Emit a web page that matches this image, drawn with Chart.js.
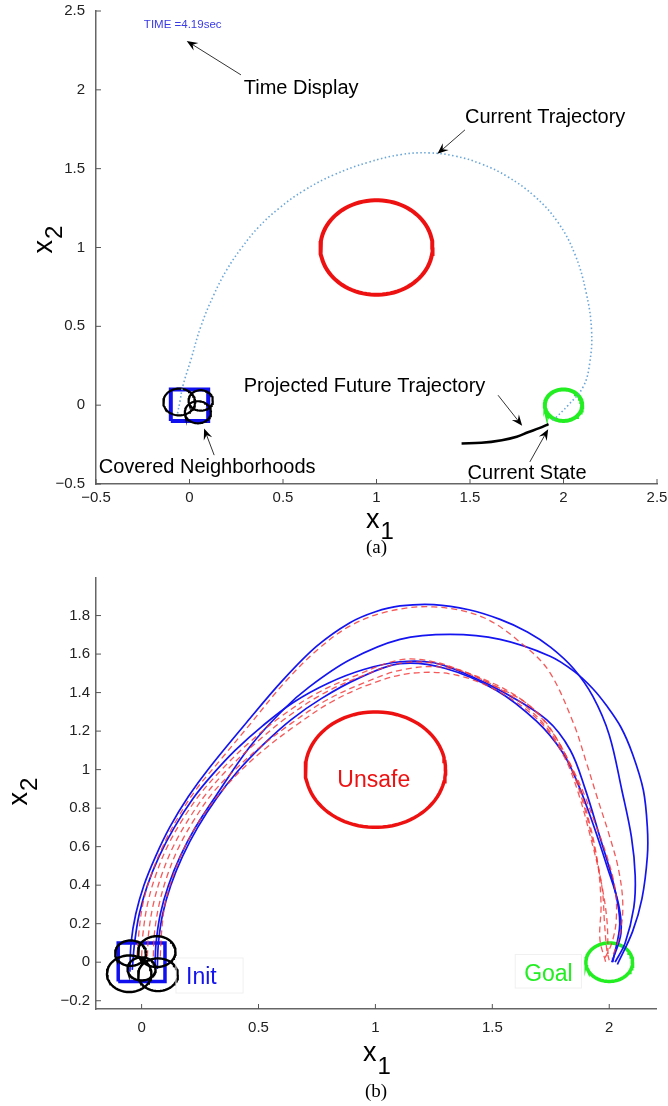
<!DOCTYPE html>
<html>
<head>
<meta charset="utf-8">
<script src="https://cdn.jsdelivr.net/npm/chart.js@4.4.1/dist/chart.umd.min.js"></script>
<style>
  body { margin: 0; background: #fff; }
  canvas { display: block; }
</style>
</head>
<body>
<canvas id="chartA" width="668" height="560"></canvas>
<canvas id="chartB" width="668" height="546"></canvas>
<script>
// ---- (a) données ----
const aTicksX = [-0.5, 0, 0.5, 1, 1.5, 2, 2.5];
const aTicksY = [-0.5, 0, 0.5, 1, 1.5, 2, 2.5];
// trajectoire courante (pointillés)
const aTrajX = [-0.064, -0.05, -0.037, 0.007, 0.06, 0.13, 0.2, 0.28, 0.37, 0.48, 0.61, 0.77, 0.955, 1.134, 1.28, 1.42, 1.56, 1.7, 1.847, 1.97, 2.06, 2.12, 2.15, 2.14, 2.105, 2.025, 1.936];
const aTrajY = [-0.053, 0.03, 0.116, 0.286, 0.497, 0.7, 0.86, 1.0, 1.13, 1.25, 1.36, 1.46, 1.54, 1.59, 1.6, 1.58, 1.53, 1.45, 1.323, 1.16, 0.96, 0.72, 0.476, 0.265, 0.116, 0.0, -0.106];
// trajectoire future projetée
const aFutureX = [1.455, 1.561, 1.67, 1.75, 1.81, 1.87, 1.92];
const aFutureY = [-0.243, -0.239, -0.222, -0.2, -0.172, -0.146, -0.12];
// cercles : zone dangereuse, but, voisinages couverts
const aCircleCx = [1, 2, -0.055, 0.06, 0.045];
const aCircleCy = [1, 0, 0.02, 0.03, -0.045];
const aCircleR  = [0.3, 0.1, 0.085, 0.065, 0.07];
// ensemble initial
const initX = [-0.1, 0.1, 0.1, -0.1, -0.1];
const initY = [-0.1, -0.1, 0.1, 0.1, -0.1];

// ---- (b) données ----
const bTicksX = [0, 0.5, 1, 1.5, 2];
const bTicksY = [-0.2, 0, 0.2, 0.4, 0.6, 0.8, 1, 1.2, 1.4, 1.6, 1.8];
const blueX = [
  [-0.05, -0.045, -0.025, 0.01, 0.06, 0.12, 0.2, 0.29, 0.449, 0.606, 0.749, 0.891, 1.0, 1.105, 1.25, 1.4, 1.533, 1.65, 1.75, 1.847, 1.93, 2.0, 2.054, 2.095, 2.111, 2.105, 2.068, 2.025],
  [-0.04, -0.03, -0.01, 0.025, 0.075, 0.14, 0.22, 0.3, 0.4, 0.52, 0.65, 0.8, 0.95, 1.105, 1.25, 1.4, 1.55, 1.733, 1.833, 1.897, 1.96, 2.02, 2.045, 2.015],
  [0.057, 0.062, 0.08, 0.115, 0.165, 0.23, 0.321, 0.463, 0.606, 0.72, 0.891, 1.105, 1.319, 1.533, 1.747, 1.85, 1.93, 1.99, 2.05, 2.1, 2.146, 2.163, 2.163, 2.14, 2.1, 2.035],
  [0.067, 0.072, 0.09, 0.125, 0.175, 0.24, 0.32, 0.41, 0.52, 0.64, 0.77, 0.92, 1.105, 1.3, 1.52, 1.69, 1.8, 1.865, 1.93, 1.99, 2.04, 2.05, 2.011]
];
const blueY = [
  [-0.05, 0.1, 0.25, 0.4, 0.55, 0.7, 0.86, 1.01, 1.245, 1.467, 1.641, 1.763, 1.82, 1.85, 1.857, 1.83, 1.78, 1.715, 1.635, 1.525, 1.38, 1.18, 0.893, 0.65, 0.45, 0.283, 0.1, 0.0],
  [-0.04, 0.1, 0.25, 0.4, 0.55, 0.7, 0.85, 0.97, 1.1, 1.23, 1.35, 1.45, 1.52, 1.56, 1.555, 1.49, 1.4, 1.258, 1.102, 0.9, 0.65, 0.4, 0.2, 0.0],
  [-0.03, 0.1, 0.25, 0.4, 0.55, 0.7, 0.87, 1.119, 1.311, 1.432, 1.57, 1.676, 1.702, 1.676, 1.589, 1.51, 1.42, 1.33, 1.22, 1.08, 0.893, 0.7, 0.55, 0.33, 0.16, -0.012],
  [-0.035, 0.1, 0.25, 0.4, 0.55, 0.7, 0.85, 0.99, 1.13, 1.26, 1.37, 1.47, 1.55, 1.525, 1.41, 1.25, 1.09, 0.93, 0.72, 0.5, 0.3, 0.15, 0.0]
];
const redX = [
  [-0.02, -0.012, 0.005, 0.04, 0.09, 0.155, 0.235, 0.33, 0.46, 0.61, 0.75, 0.89, 1.05, 1.248, 1.462, 1.647, 1.747, 1.847, 1.904, 1.95, 2.0, 2.04, 2.058, 2.045, 2.011],
  [0.0, 0.006, 0.025, 0.06, 0.11, 0.175, 0.255, 0.35, 0.46, 0.59, 0.74, 0.9, 1.105, 1.25, 1.39, 1.52, 1.64, 1.72, 1.79, 1.845, 1.89, 1.94, 1.99, 2.025, 2.03, 2.011, 1.975],
  [0.025, 0.03, 0.05, 0.085, 0.135, 0.2, 0.28, 0.375, 0.49, 0.62, 0.77, 0.93, 1.12, 1.3, 1.5, 1.67, 1.79, 1.86, 1.91, 1.95, 1.965, 1.96, 1.985],
  [0.05, 0.055, 0.075, 0.11, 0.16, 0.225, 0.305, 0.4, 0.51, 0.64, 0.79, 0.95, 1.12, 1.3, 1.5, 1.66, 1.77, 1.84, 1.89, 1.935, 1.97, 1.98, 1.99, 2.0],
  [0.08, 0.085, 0.1, 0.135, 0.185, 0.25, 0.33, 0.42, 0.53, 0.66, 0.81, 0.97, 1.15, 1.35, 1.55, 1.71, 1.81, 1.87, 1.92, 1.965, 1.99, 1.995]
];
const redY = [
  [0.03, 0.15, 0.3, 0.45, 0.6, 0.75, 0.9, 1.04, 1.23, 1.45, 1.62, 1.745, 1.82, 1.845, 1.79, 1.633, 1.502, 1.241, 1.03, 0.85, 0.66, 0.48, 0.3, 0.14, 0.02],
  [0.03, 0.15, 0.3, 0.45, 0.6, 0.74, 0.88, 1.01, 1.14, 1.27, 1.39, 1.48, 1.57, 1.56, 1.502, 1.43, 1.35, 1.26, 1.13, 1.0, 0.88, 0.72, 0.55, 0.38, 0.22, 0.1, 0.005],
  [0.03, 0.15, 0.3, 0.45, 0.6, 0.74, 0.88, 1.01, 1.14, 1.27, 1.39, 1.48, 1.555, 1.54, 1.44, 1.3, 1.12, 0.95, 0.75, 0.52, 0.3, 0.12, 0.0],
  [0.03, 0.15, 0.3, 0.45, 0.6, 0.74, 0.88, 1.0, 1.12, 1.24, 1.36, 1.45, 1.52, 1.53, 1.45, 1.33, 1.17, 1.0, 0.82, 0.6, 0.38, 0.2, 0.06, 0.01],
  [0.03, 0.15, 0.3, 0.45, 0.6, 0.74, 0.87, 0.99, 1.11, 1.23, 1.35, 1.44, 1.5, 1.49, 1.39, 1.24, 1.06, 0.87, 0.65, 0.42, 0.22, 0.02]
];
const bCircleCx = [1, 2, -0.047, 0.065, -0.053, 0.07, 0.0];
const bCircleCy = [1, 0, 0.047, 0.055, -0.06, -0.065, -0.035];
const bCircleR  = [0.3, 0.1, 0.066, 0.08, 0.095, 0.085, 0.06];

const FONT = "'Liberation Sans', Arial, Helvetica, sans-serif";

function pts(xs, ys) { return xs.map((v, i) => ({ x: v, y: ys[i] })); }
function ring(cx, cy, r) {
  const out = [];
  for (let i = 0; i <= 90; i++) {
    const t = i / 90 * 2 * Math.PI;
    out.push({ x: cx + r * Math.cos(t), y: cy + r * Math.sin(t) });
  }
  return out;
}
function line(data, color, width, dash, tension) {
  return { data, showLine: true, borderColor: color, borderWidth: width, borderDash: dash || [],
           pointRadius: 0, tension: tension || 0, fill: false };
}
function fmt(v) { return String(+v.toFixed(2)).replace('-', '\u2212'); }

// graduations vers l'intérieur, textes, flèches, titres d'axes
const annotPlugin = {
  id: 'annot',
  afterDatasetsDraw(chart, args, o) {
    const ctx = chart.ctx, sx = chart.scales.x, sy = chart.scales.y, a = chart.chartArea;
    const X = v => sx.getPixelForValue(v), Y = v => sy.getPixelForValue(v);
    ctx.save();
    ctx.strokeStyle = '#555'; ctx.lineWidth = 1;
    sx.ticks.forEach(t => { const p = X(t.value); ctx.beginPath(); ctx.moveTo(p, a.bottom); ctx.lineTo(p, a.bottom - 5); ctx.stroke(); });
    sy.ticks.forEach(t => { const p = Y(t.value); ctx.beginPath(); ctx.moveTo(a.left, p); ctx.lineTo(a.left + 5, p); ctx.stroke(); });

    (o.boxes || []).forEach(b => {
      ctx.strokeStyle = b.color; ctx.lineWidth = 1;
      ctx.strokeRect(X(b.x0), Y(b.y1), X(b.x1) - X(b.x0), Y(b.y0) - Y(b.y1));
    });
    (o.arrows || []).forEach(r => {
      const x1 = X(r[0]), y1 = Y(r[1]), x2 = X(r[2]), y2 = Y(r[3]);
      const ang = Math.atan2(y2 - y1, x2 - x1);
      ctx.strokeStyle = '#333'; ctx.lineWidth = 1;
      ctx.beginPath(); ctx.moveTo(x1, y1); ctx.lineTo(x2 - 6 * Math.cos(ang), y2 - 6 * Math.sin(ang)); ctx.stroke();
      ctx.fillStyle = '#000';
      ctx.beginPath();
      ctx.moveTo(x2, y2);
      ctx.lineTo(x2 - 11 * Math.cos(ang) + 4.5 * Math.sin(ang), y2 - 11 * Math.sin(ang) - 4.5 * Math.cos(ang));
      ctx.lineTo(x2 - 7 * Math.cos(ang), y2 - 7 * Math.sin(ang));
      ctx.lineTo(x2 - 11 * Math.cos(ang) - 4.5 * Math.sin(ang), y2 - 11 * Math.sin(ang) + 4.5 * Math.cos(ang));
      ctx.closePath(); ctx.fill();
    });
    (o.texts || []).forEach(t => {
      ctx.font = t.size + 'px ' + FONT; ctx.fillStyle = t.color;
      ctx.textAlign = 'left'; ctx.textBaseline = 'middle';
      ctx.fillText(t.text, X(t.x), Y(t.y));
    });

    // titres d'axes avec indice
    ctx.fillStyle = '#000'; ctx.textAlign = 'left'; ctx.textBaseline = 'alphabetic';
    const xl = o.xLabel, cx = (a.left + a.right) / 2;
    ctx.font = xl.size + 'px ' + FONT;
    const wx = ctx.measureText('x').width;
    ctx.fillText('x', cx + xl.dx, a.bottom + xl.dy);
    ctx.font = xl.subSize + 'px ' + FONT;
    ctx.fillText(xl.sub, cx + xl.dx + wx + 1, a.bottom + xl.dy + xl.subDy);

    const yl = o.yLabel, cy = (a.top + a.bottom) / 2 + yl.dy;
    ctx.translate(yl.x, cy); ctx.rotate(-Math.PI / 2);
    ctx.font = yl.size + 'px ' + FONT;
    const wy = ctx.measureText('x').width;
    ctx.font = yl.subSize + 'px ' + FONT;
    const ws = ctx.measureText(yl.sub).width;
    const start = -(wy + 1 + ws) / 2;
    ctx.font = yl.size + 'px ' + FONT;
    ctx.fillText('x', start, 0);
    ctx.font = yl.subSize + 'px ' + FONT;
    ctx.fillText(yl.sub, start + wy + 1, yl.subDy);
    ctx.setTransform(1, 0, 0, 1, 0, 0);

    ctx.font = "19px 'Liberation Serif', 'Times New Roman', serif";
    ctx.textAlign = 'center'; ctx.textBaseline = 'middle';
    ctx.fillText(o.caption.text, cx, a.bottom + o.caption.dy);
    ctx.restore();
  }
};

function axes(cfg) {
  const tickFont = { size: 15, family: FONT };
  return {
    x: {
      type: 'linear', min: cfg.xmin, max: cfg.xmax,
      border: { color: '#666', width: 1.5 },
      grid: { drawOnChartArea: false, drawTicks: false },
      ticks: { color: '#222', font: tickFont, padding: cfg.xPad, callback: v => fmt(v) },
      afterBuildTicks: s => { s.ticks = cfg.ticksX.map(v => ({ value: v })); },
      afterFit: s => { s.height = cfg.xH; s.paddingLeft = 0; s.paddingRight = 0; }
    },
    y: {
      type: 'linear', min: cfg.ymin, max: cfg.ymax,
      border: { color: '#666', width: 1.5 },
      grid: { drawOnChartArea: false, drawTicks: false },
      ticks: { color: '#222', font: tickFont, padding: cfg.yPad, callback: v => fmt(v) },
      afterBuildTicks: s => { s.ticks = cfg.ticksY.map(v => ({ value: v })); },
      afterFit: s => { s.width = 96; s.paddingTop = 0; s.paddingBottom = 0; }
    }
  };
}

// ---- graphique (a) ----
const dsA = [
  line(pts(aTrajX, aTrajY), '#6aa6d8', 1.6, [1.5, 2.5], 0.4),
  line(pts(aFutureX, aFutureY), '#000', 2.5, [], 0.4),
  line(ring(aCircleCx[2], aCircleCy[2], aCircleR[2]), '#000', 2.2),
  line(ring(aCircleCx[3], aCircleCy[3], aCircleR[3]), '#000', 2.2),
  line(ring(aCircleCx[4], aCircleCy[4], aCircleR[4]), '#000', 2.2),
  line(pts(initX, initY), '#1010ee', 4),
  line(ring(aCircleCx[1], aCircleCy[1], aCircleR[1]), '#22ee22', 4),
  line(ring(aCircleCx[0], aCircleCy[0], aCircleR[0]), '#ee1111', 4)
];

new Chart(document.getElementById('chartA'), {
  type: 'scatter',
  data: { datasets: dsA },
  options: {
    responsive: false, animation: false,
    layout: { padding: { left: 0, right: 11, top: 11, bottom: 0 } },
    scales: axes({ xmin: -0.5, xmax: 2.5, ymin: -0.5, ymax: 2.5, ticksX: aTicksX, ticksY: aTicksY, xPad: 5, yPad: 11, xH: 76 }),
    plugins: {
      legend: { display: false }, tooltip: { enabled: false },
      annot: {
        texts: [
          { x: -0.244, y: 2.41, text: 'TIME =4.19sec', color: '#3a3ae6', size: 11.5 },
          { x: 0.29, y: 2.006, text: 'Time Display', color: '#000', size: 20 },
          { x: 1.473, y: 1.822, text: 'Current Trajectory', color: '#000', size: 20 },
          { x: 0.29, y: 0.12, text: 'Projected Future Trajectory', color: '#000', size: 20 },
          { x: 1.487, y: -0.432, text: 'Current State', color: '#000', size: 20 },
          { x: -0.485, y: -0.394, text: 'Covered Neighborhoods', color: '#000', size: 20 }
        ],
        arrows: [
          [0.275, 2.095, -0.015, 2.31],
          [1.473, 1.746, 1.326, 1.594],
          [1.65, 0.063, 1.779, -0.131],
          [1.82, -0.36, 1.918, -0.152],
          [0.132, -0.317, 0.078, -0.148]
        ],
        xLabel: { dx: -10.5, dy: 44, size: 27, sub: '1', subSize: 24, subDy: 11 },
        yLabel: { x: 52, dy: -8, size: 27, sub: '2', subSize: 24, subDy: 10 },
        caption: { text: '(a)', dy: 64 }
      }
    }
  },
  plugins: [annotPlugin]
});

// ---- graphique (b) ----
const dsB = [];
for (let i = 2; i < bCircleCx.length; i++) dsB.push(line(ring(bCircleCx[i], bCircleCy[i], bCircleR[i]), '#000', 2.4));
redX.forEach((xs, i) => dsB.push(line(pts(xs, redY[i]), 'rgba(245,60,60,0.85)', 1.3, [6, 4], 0.35)));
blueX.forEach((xs, i) => dsB.push(line(pts(xs, blueY[i]), '#1414f0', 1.7, [], 0.35)));
dsB.push(line(pts(initX, initY), '#1010ee', 3.5));
dsB.push(line(ring(bCircleCx[1], bCircleCy[1], bCircleR[1]), '#22ee22', 3.5));
dsB.push(line(ring(bCircleCx[0], bCircleCy[0], bCircleR[0]), '#ee1111', 3.5));

new Chart(document.getElementById('chartB'), {
  type: 'scatter',
  data: { datasets: dsB },
  options: {
    responsive: false, animation: false,
    layout: { padding: { left: 0, right: 12, top: 18, bottom: 0 } },
    scales: axes({ xmin: -0.195, xmax: 2.2, ymin: -0.243, ymax: 1.995, ticksX: bTicksX, ticksY: bTicksY, xPad: 10, yPad: 6, xH: 97 }),
    plugins: {
      legend: { display: false }, tooltip: { enabled: false },
      annot: {
        boxes: [
          { x0: 0.147, x1: 0.434, y0: -0.16, y1: 0.022, color: '#f0f0f0' },
          { x0: 1.598, x1: 1.881, y0: -0.134, y1: 0.04, color: '#f0f0f0' }
        ],
        texts: [
          { x: 0.19, y: -0.082, text: 'Init', color: '#1414f0', size: 23 },
          { x: 1.636, y: -0.064, text: 'Goal', color: '#22ee22', size: 23 },
          { x: 0.837, y: 0.942, text: 'Unsafe', color: '#ee1111', size: 23 }
        ],
        arrows: [],
        xLabel: { dx: -13, dy: 52, size: 27, sub: '1', subSize: 24, subDy: 13 },
        yLabel: { x: 27, dy: -2, size: 27, sub: '2', subSize: 24, subDy: 10 },
        caption: { text: '(b)', dy: 83 }
      }
    }
  },
  plugins: [annotPlugin]
});
</script>
</body>
</html>
